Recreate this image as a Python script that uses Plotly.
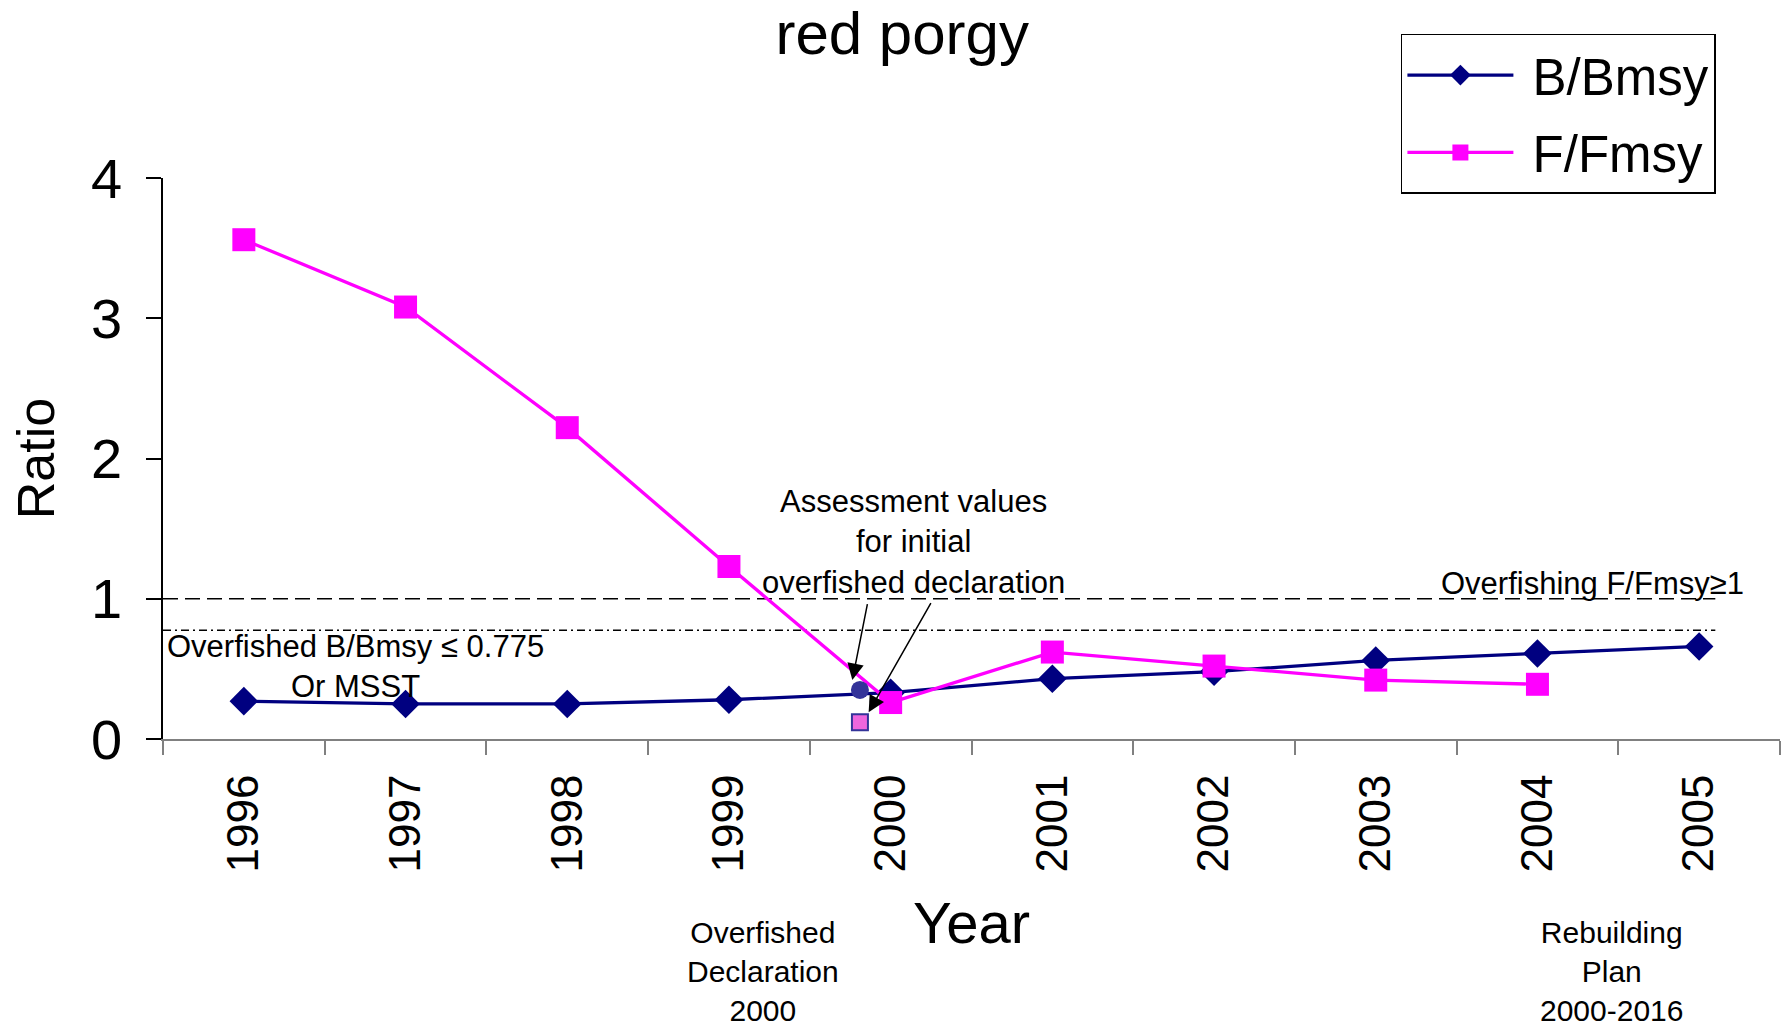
import plotly.graph_objects as go

# ---------------- data ----------------
years = [1996, 1997, 1998, 1999, 2000, 2001, 2002, 2003, 2004, 2005]
year_labels = ["1996", "1997", "1998", "1999", "2000", "2001", "2002", "2003", "2004", "2005"]
b_bmsy = [0.27, 0.25, 0.25, 0.28, 0.33, 0.43, 0.48, 0.56, 0.61, 0.66]
f_fmsy = [3.56, 3.08, 2.22, 1.23, 0.26, 0.62, 0.52, 0.42, 0.39, None]

# assessment values used for the initial overfished declaration
assess_year = [1999.81]
assess_b = [0.35]
assess_f = [0.12]

# reference limits
overfishing_limit = 1.0
overfished_limit = 0.775
limit_years = [1995.5, 2005.1]

FONT = "Liberation Sans, Arial, sans-serif"
NAVY = "#000080"
MAGENTA = "#FF00FF"

fig = go.Figure()

# threshold lines
fig.add_trace(go.Scatter(
    x=limit_years, y=[overfishing_limit] * len(limit_years), mode="lines",
    line=dict(color="black", width=1.5, dash="15px,7px"),
    showlegend=False, hoverinfo="skip"))
fig.add_trace(go.Scatter(
    x=limit_years, y=[overfished_limit] * len(limit_years), mode="lines",
    line=dict(color="black", width=1.5, dash="8px,4px,2px,4px"),
    showlegend=False, hoverinfo="skip"))

# main series
fig.add_trace(go.Scatter(
    x=years, y=b_bmsy, mode="lines+markers", name="\u00a0B/Bmsy", legendgroup="b",
    line=dict(color=NAVY, width=3.3),
    marker=dict(symbol="diamond", size=22, color=NAVY)))
fig.add_trace(go.Scatter(
    x=years, y=f_fmsy, mode="lines+markers", name="\u00a0F/Fmsy", legendgroup="f",
    line=dict(color=MAGENTA, width=3.3),
    marker=dict(symbol="square", size=23, color=MAGENTA)))

# assessment points
fig.add_trace(go.Scatter(
    x=assess_year, y=assess_b, mode="markers", showlegend=False,
    marker=dict(symbol="circle", size=18, color="#333399")))
fig.add_trace(go.Scatter(
    x=assess_year, y=assess_f, mode="markers", showlegend=False,
    marker=dict(symbol="square", size=16, color="#EE66DD",
                line=dict(color="#333399", width=2))))

ann_font = dict(family=FONT, size=31, color="black")
foot_font = dict(family=FONT, size=30, color="black")

annotations = [
    dict(x=2000.14, y=1.407, xref="x", yref="y", showarrow=False,
         text="Assessment values<br>for initial<br>overfished declaration",
         font=ann_font, align="center", xanchor="center", yanchor="middle"),
    dict(x=2005.29, y=1.109, xref="x", yref="y", showarrow=False,
         text="Overfishing F/Fmsy≥1", font=ann_font,
         xanchor="right", yanchor="middle"),
    dict(x=1996.69, y=0.516, xref="x", yref="y", showarrow=False,
         text="Overfished B/Bmsy ≤ 0.775<br>Or MSST", font=ann_font,
         align="center", xanchor="center", yanchor="middle"),
    dict(x=1999.21, y=-0.415, xref="x", yref="paper", showarrow=False,
         text="Overfished<br>Declaration<br>2000", font=foot_font,
         align="center", xanchor="center", yanchor="middle"),
    dict(x=2004.46, y=-0.415, xref="x", yref="paper", showarrow=False,
         text="Rebuilding<br>Plan<br>2000-2016", font=foot_font,
         align="center", xanchor="center", yanchor="middle"),
    # arrows
    dict(x=1999.763, y=0.42, ax=1999.858, ay=0.972, xref="x", yref="y",
         axref="x", ayref="y", showarrow=True, text="",
         arrowhead=2, arrowsize=2.2, arrowwidth=1.5, arrowcolor="black",
         standoff=0),
    dict(x=1999.864, y=0.19, ax=2000.254, ay=0.979, xref="x", yref="y",
         axref="x", ayref="y", showarrow=True, text="",
         arrowhead=2, arrowsize=2.2, arrowwidth=1.5, arrowcolor="black",
         standoff=0),
]

fig.update_layout(
    width=1783, height=1029,
    margin=dict(l=163, r=3, t=178, b=290, autoexpand=False),
    paper_bgcolor="white", plot_bgcolor="white",
    font=dict(family=FONT, color="black"),
    title=dict(text="red porgy", x=0.506, xref="container", xanchor="center",
               y=0.968, yref="container", yanchor="middle",
               font=dict(family=FONT, size=60, color="black")),
    legend=dict(x=0.7857, y=0.967, xref="container", yref="container",
                xanchor="left", yanchor="top",
                bgcolor="white", bordercolor="black", borderwidth=1.5,
                font=dict(family=FONT, size=51, color="black"),
                itemwidth=106, tracegroupgap=8),
    annotations=annotations,
    showlegend=True,
)

fig.update_xaxes(
    range=[1995.5, 2005.5], tickmode="array", tickvals=years, ticktext=year_labels,
    tickangle=-90, ticks="", showline=True, linecolor="#808080", linewidth=2,
    showgrid=False, zeroline=False, automargin=False,
    tickfont=dict(family=FONT, size=44, color="black"),
    ticklabelstandoff=16,
    minor=dict(ticks="outside", tick0=1995.5, dtick=1, ticklen=14,
               tickcolor="#808080", tickwidth=1.5, showgrid=False),
    title=dict(text="Year", font=dict(family=FONT, size=58, color="black"),
               standoff=31),
)
fig.update_yaxes(
    range=[0, 4], tickmode="linear", tick0=0, dtick=1,
    ticks="outside", ticklen=15, tickcolor="black", tickwidth=1.5,
    showline=True, linecolor="black", linewidth=1.5,
    showgrid=False, zeroline=False, automargin=False,
    tickfont=dict(family=FONT, size=56, color="black"),
    ticklabelstandoff=13,
    title=dict(text="Ratio", font=dict(family=FONT, size=52, color="black"),
               standoff=20),
)

# remove the browser's default page margin so the figure sits at the window origin
fig.write_html("out.html", config={"displayModeBar": False},
               post_script="document.body.style.margin='0';")
